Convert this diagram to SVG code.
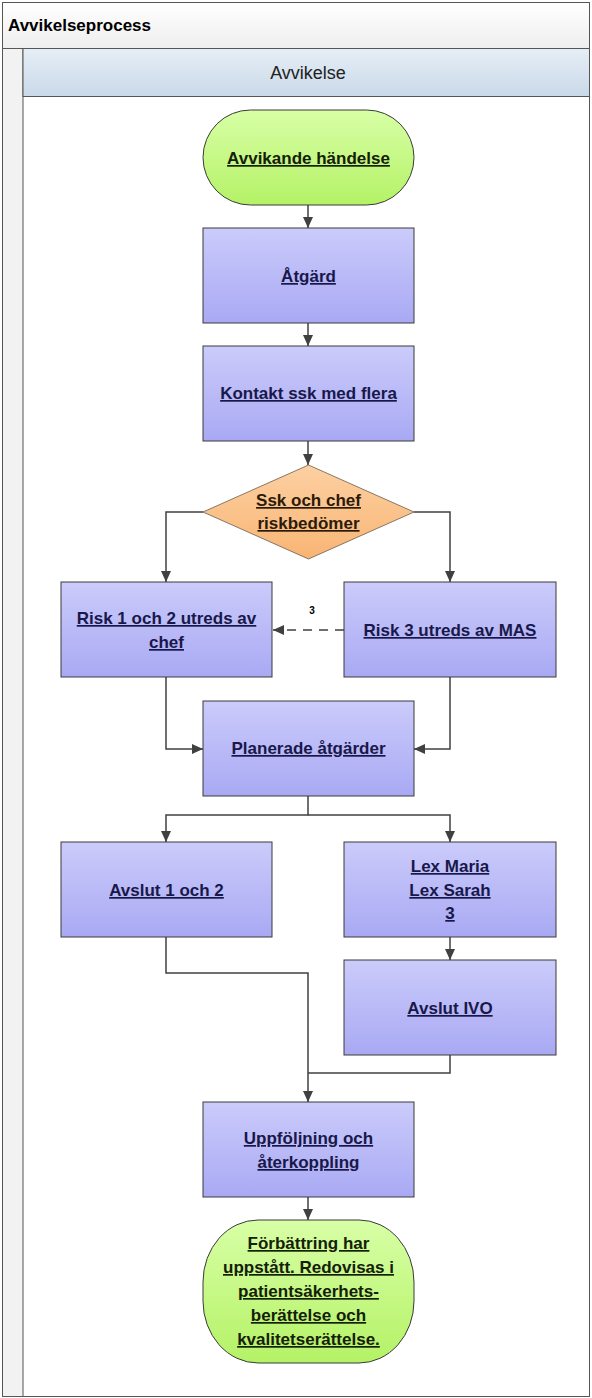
<svg xmlns="http://www.w3.org/2000/svg" width="592" height="1398" viewBox="0 0 592 1398">
<defs>
<linearGradient id="gBox" x1="0" y1="0" x2="0" y2="1"><stop offset="0" stop-color="#cbcbfb"/><stop offset="1" stop-color="#a9a9f4"/></linearGradient>
<linearGradient id="gTerm" x1="0" y1="0" x2="0" y2="1"><stop offset="0" stop-color="#d8ffa6"/><stop offset="1" stop-color="#b4f266"/></linearGradient>
<linearGradient id="gDia" x1="0" y1="0" x2="0" y2="1"><stop offset="0" stop-color="#fdd0a2"/><stop offset="1" stop-color="#f8b574"/></linearGradient>
<linearGradient id="gHead" x1="0" y1="0" x2="0" y2="1"><stop offset="0" stop-color="#e6eef6"/><stop offset="1" stop-color="#c9d9e8"/></linearGradient>
<linearGradient id="gTitle" x1="0" y1="0" x2="0" y2="1"><stop offset="0" stop-color="#ffffff"/><stop offset="1" stop-color="#eeeeee"/></linearGradient>
<marker id="arr" markerUnits="userSpaceOnUse" markerWidth="11" markerHeight="10" refX="11" refY="5" orient="auto"><path d="M0,0 L11,5 L0,10 z" fill="#404040"/></marker>
</defs>
<style>
.box{fill:url(#gBox);stroke:#3a3a3a;stroke-width:1}
.term{fill:url(#gTerm);stroke:#3a3a3a;stroke-width:1}
.dia{fill:url(#gDia);stroke:#6a5a4a;stroke-width:0.8}
.t{font-family:"Liberation Sans",Arial,sans-serif;font-size:17px;font-weight:bold;text-anchor:middle;fill:#18184a;text-decoration:underline}
.tg{fill:#142008}
.td{fill:#2a1a0a}
.c{fill:none;stroke:#404040;stroke-width:1.5;marker-end:url(#arr)}
.cn{fill:none;stroke:#404040;stroke-width:1.5}
</style>
<g id="pool">
<rect x="2.5" y="2.5" width="587" height="1394" fill="#ffffff" stroke="#555555" stroke-width="1"/>
<rect x="2.5" y="2.5" width="587" height="46" fill="url(#gTitle)" stroke="#555555" stroke-width="1"/>
<text x="8" y="31" font-family="'Liberation Sans',Arial,sans-serif" font-size="17" font-weight="bold" fill="#000000">Avvikelseprocess</text>
<rect x="2.5" y="48.5" width="20.5" height="1348" fill="#f2f2f2" stroke="#555555" stroke-width="1"/>
<rect x="23" y="48.5" width="566.5" height="48" fill="url(#gHead)" stroke="#555555" stroke-width="1"/>
<text x="308" y="79" font-family="'Liberation Sans',Arial,sans-serif" font-size="18" text-anchor="middle" fill="#222222">Avvikelse</text>
</g>
<g id="connectors">
<path class="c" d="M308,205 V228"/>
<path class="c" d="M308,323 V346"/>
<path class="c" d="M308,441 V465"/>
<path class="c" d="M203,512 H166 V582"/>
<path class="c" d="M414,512 H450 V582"/>
<path class="c" d="M344,630 H273" stroke-dasharray="9,7"/>
<text x="312" y="614" font-family="'Liberation Sans',Arial,sans-serif" font-size="10" font-weight="bold" text-anchor="middle" fill="#000000">3</text>
<path class="c" d="M166,677 V749 H203"/>
<path class="c" d="M450,677 V749 H414"/>
<path class="c" d="M308,796 V815 H166 V842"/>
<path class="c" d="M308,815 H450 V842"/>
<path class="c" d="M450,937 V960"/>
<path class="c" d="M166,937 V973 H308 V1102"/>
<path class="cn" d="M450,1055 V1073 H308"/>
<path class="c" d="M308,1197 V1220"/>
</g>
<g id="n-start">
<rect class="term" x="203" y="110" width="211" height="95" rx="47.5" ry="47.5"/>
<text class="t tg" x="308.5" y="164">Avvikande händelse</text>
</g>
<g id="n-atgard">
<rect class="box" x="203" y="228" width="211" height="95"/>
<text class="t" x="308.5" y="282">Åtgärd</text>
</g>
<g id="n-kontakt">
<rect class="box" x="203" y="346" width="211" height="95"/>
<text class="t" x="308.5" y="399">Kontakt ssk med flera</text>
</g>
<g id="n-risk">
<polygon class="dia" points="308.5,465 414,512 308.5,559 203,512"/>
<text class="t td" x="308.5" y="506">Ssk och chef</text>
<text class="t td" x="308.5" y="529">riskbedömer</text>
</g>
<g id="n-risk12">
<rect class="box" x="61" y="582" width="211" height="95"/>
<text class="t" x="166.5" y="624">Risk 1 och 2 utreds av</text>
<text class="t" x="166.5" y="648">chef</text>
</g>
<g id="n-risk3">
<rect class="box" x="344" y="582" width="212" height="95"/>
<text class="t" x="450" y="636">Risk 3 utreds av MAS</text>
</g>
<g id="n-planerade">
<rect class="box" x="203" y="701" width="211" height="95"/>
<text class="t" x="308.5" y="754">Planerade åtgärder</text>
</g>
<g id="n-avslut12">
<rect class="box" x="61" y="842" width="211" height="95"/>
<text class="t" x="166.5" y="896">Avslut 1 och 2</text>
</g>
<g id="n-lex">
<rect class="box" x="344" y="842" width="212" height="95"/>
<text class="t" x="450" y="872">Lex Maria</text>
<text class="t" x="450" y="896">Lex Sarah</text>
<text class="t" x="450" y="919">3</text>
</g>
<g id="n-ivo">
<rect class="box" x="344" y="960" width="212" height="95"/>
<text class="t" x="450" y="1014">Avslut IVO</text>
</g>
<g id="n-uppf">
<rect class="box" x="203" y="1102" width="211" height="95"/>
<text class="t" x="308.5" y="1144">Uppföljning och</text>
<text class="t" x="308.5" y="1168">återkoppling</text>
</g>
<g id="n-end">
<rect class="term" x="203" y="1220" width="211" height="143" rx="55" ry="62"/>
<text class="t tg" x="308.5" y="1249">Förbättring har</text>
<text class="t tg" x="308.5" y="1273">uppstått. Redovisas i</text>
<text class="t tg" x="308.5" y="1297">patientsäkerhets-</text>
<text class="t tg" x="308.5" y="1321">berättelse och</text>
<text class="t tg" x="308.5" y="1345">kvalitetserättelse.</text>
</g>
</svg>
